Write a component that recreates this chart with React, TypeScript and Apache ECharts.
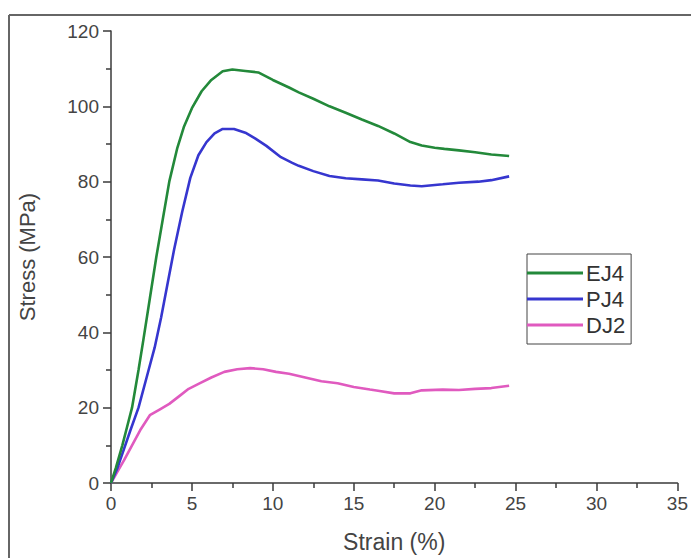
import React, { useEffect, useRef } from "react";
import * as echarts from "echarts";

const seriesNames = ["EJ4", "PJ4", "DJ2"];

const ej4Strain = [0, 0.3, 0.7, 1.0, 1.3, 1.7, 2.0, 2.4, 2.8, 3.2, 3.6, 4.1, 4.5, 5.0, 5.6, 6.2, 6.9, 7.5, 8.3, 9.1, 10, 11, 11.6, 12.5, 13.5, 14.5, 15.5, 16.5, 17.5, 18.5, 19.2, 20, 20.6, 21.5, 22.5, 23.5, 24.6];
const ej4Stress = [0, 4, 10, 15, 20, 30, 38, 49, 60, 70, 80, 89, 94.5, 99.5, 104, 107, 109.3, 109.8, 109.4, 109, 107, 105, 103.7, 102, 100, 98.3, 96.5, 94.8, 92.8, 90.5, 89.6, 89, 88.7, 88.3, 87.8, 87.2, 86.8];

const pj4Strain = [0, 0.4, 0.8, 1.2, 1.7, 2.2, 2.7, 3.1, 3.5, 3.9, 4.4, 4.9, 5.4, 5.9, 6.4, 6.9, 7.6, 8.3, 8.9, 9.6, 10.5, 11.2, 11.6, 12.5, 13.5, 14.5, 15.5, 16.5, 17.5, 18.5, 19.2, 20.5, 21.5, 22.7, 23.5, 24.6];
const pj4Stress = [0, 4, 9, 14, 20, 28, 36, 44, 53, 62, 72, 81, 87, 90.5, 92.8, 94, 94, 93, 91.5, 89.5, 86.5, 85, 84.2, 82.8, 81.5, 80.9, 80.6, 80.3, 79.5, 79, 78.8, 79.3, 79.7, 80, 80.4, 81.4];

const dj2Strain = [0, 0.4, 0.8, 1.3, 1.8, 2.4, 3.0, 3.6, 4.2, 4.8, 5.5, 6.2, 7.0, 7.8, 8.6, 9.4, 10.2, 11, 12, 13, 14, 15, 16, 16.5, 17.5, 18.5, 19.2, 20.5, 21.5, 22.5, 23.5, 24.6];
const dj2Stress = [0, 3, 6, 10, 14, 18, 19.5, 21, 23, 25, 26.5, 28, 29.5, 30.2, 30.5, 30.2, 29.5, 29, 28, 27, 26.5, 25.5, 24.8, 24.5, 23.8, 23.8, 24.6, 24.8, 24.7, 25, 25.2, 25.8];

const xTicks = [0, 5, 10, 15, 20, 25, 30, 35];
const yTicks = [0, 20, 40, 60, 80, 100, 120];

const colors = ["#23893a", "#3636cf", "#e05abf"];

const zip = (xs: number[], ys: number[]) => xs.map((x, i) => [x, ys[i]]);

export default function App() {
  const ref = useRef<HTMLDivElement>(null);
  useEffect(() => {
    if (!ref.current) return;
    const chart = echarts.init(ref.current, undefined, { renderer: "svg" });
    const font = "'Liberation Sans', Arial, sans-serif";
    const axisColor = "#3a3a3a";
    const labelColor = "#444";
    const data = [zip(ej4Strain, ej4Stress), zip(pj4Strain, pj4Stress), zip(dj2Strain, dj2Stress)];
    chart.setOption({
      animation: false,
      backgroundColor: "#fff",
      textStyle: { fontFamily: font },
      grid: { left: 111, right: 10, top: 31, bottom: 71, containLabel: false },
      graphic: [
        { type: "line", shape: { x1: 9, y1: 15, x2: 691, y2: 15 }, style: { stroke: "#666", lineWidth: 2 } },
        { type: "line", shape: { x1: 9, y1: 15, x2: 9, y2: 558 }, style: { stroke: "#666", lineWidth: 2 } },
      ],
      legend: {
        orient: "vertical",
        left: 527,
        top: 254,
        icon: "rect",
        itemWidth: 56,
        itemHeight: 3,
        itemGap: 2,
        padding: [7, 6, 7, 0],
        borderColor: "#444",
        borderWidth: 1,
        data: seriesNames,
        textStyle: { fontSize: 22, color: "#333", fontFamily: font, lineHeight: 24, padding: [0, 0, 0, -2] },
      },
      xAxis: {
        type: "value",
        min: 0,
        max: 35,
        interval: 5,
        name: "Strain (%)",
        nameLocation: "middle",
        nameGap: 47,
        nameTextStyle: { fontSize: 23, color: labelColor, fontFamily: font },
        axisLine: { show: true, lineStyle: { color: axisColor, width: 1.5 } },
        axisTick: { show: true, inside: false, length: 8, lineStyle: { color: axisColor, width: 1.5 } },
        minorTick: { show: true, splitNumber: 2, length: 5, lineStyle: { color: axisColor, width: 1.5 } },
        splitLine: { show: false },
        axisLabel: {
          fontSize: 19,
          color: labelColor,
          margin: 11,
          fontFamily: font,
          formatter: (v: number) => (xTicks.includes(v) ? String(v) : ""),
        },
      },
      yAxis: {
        type: "value",
        min: 0,
        max: 120,
        interval: 20,
        name: "Stress (MPa)",
        nameLocation: "middle",
        nameGap: 73,
        nameTextStyle: { fontSize: 22, color: labelColor, fontFamily: font },
        axisLine: { show: true, lineStyle: { color: axisColor, width: 1.5 } },
        axisTick: { show: true, inside: false, length: 8, lineStyle: { color: axisColor, width: 1.5 } },
        minorTick: { show: true, splitNumber: 2, length: 5, lineStyle: { color: axisColor, width: 1.5 } },
        splitLine: { show: false },
        axisLabel: {
          fontSize: 19,
          color: labelColor,
          margin: 12,
          fontFamily: font,
          formatter: (v: number) => (yTicks.includes(v) ? String(v) : ""),
        },
      },
      series: seriesNames.map((name, i) => ({
        name,
        type: "line",
        data: data[i],
        showSymbol: false,
        symbol: "none",
        color: colors[i],
        lineStyle: { color: colors[i], width: 2.6 },
        z: 3 - i,
      })),
    });
    return () => chart.dispose();
  }, []);
  return (
    <div
      ref={ref}
      style={{ position: "fixed", left: 0, top: 0, width: 691, height: 558, background: "#fff" }}
    />
  );
}
